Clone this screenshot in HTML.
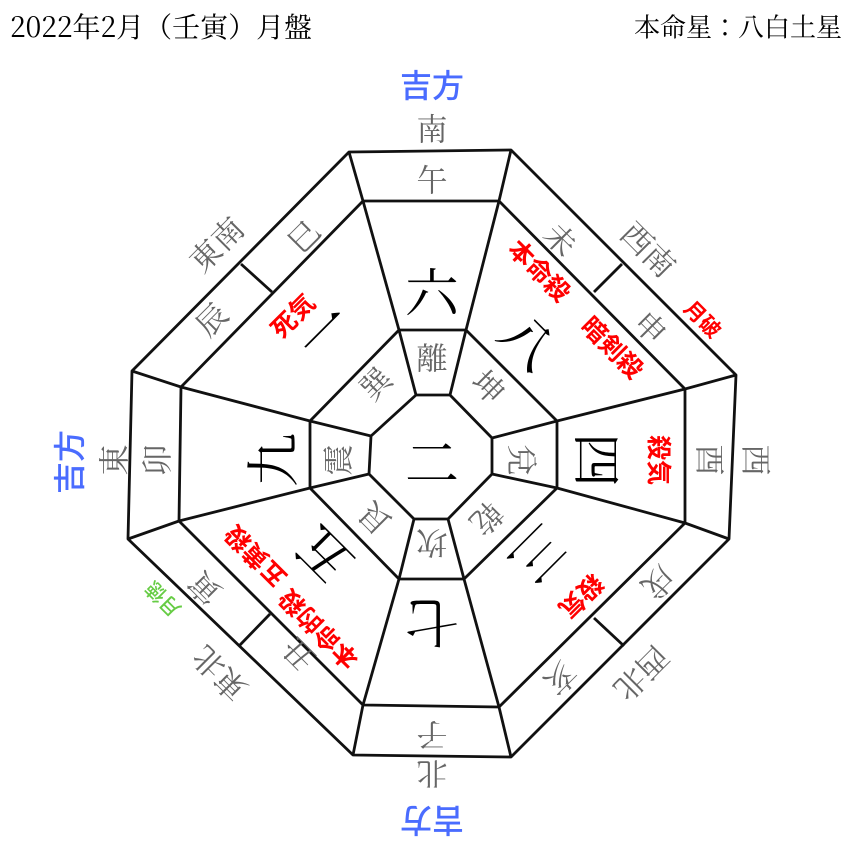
<!DOCTYPE html>
<html><head><meta charset="utf-8"><style>
html,body{margin:0;padding:0;background:#fff;width:860px;height:860px;overflow:hidden}
svg{display:block}
.g{fill:#666;font-family:"Noto Serif CJK JP","Noto Serif CJK SC",serif;font-size:31px}
.k{fill:#000;font-family:"Noto Serif CJK JP","Noto Serif CJK SC",serif;font-size:54px}
.r{fill:#f00;font-family:"Noto Sans CJK JP",sans-serif;font-size:25px;font-weight:bold}
.b{fill:#4a6cff;font-family:"Noto Sans CJK JP",sans-serif;font-size:32px;font-weight:500}
text{text-anchor:middle;dominant-baseline:central}
</style></head><body>
<svg width="860" height="860" viewBox="0 0 860 860">
<g fill="none" stroke="#111" stroke-width="2.8" stroke-linejoin="round">
<polygon points="349,152 511,150 736,375 729,539 511,757 353,755 128,539 132,371"/>
<polygon points="363,201 499,201 685,389 685,523 499,707 363,705 179,521 181,387"/>
<polygon points="399,330 466,330 557,421 557,488 464,579 399,579 310,488 310,421"/>
<polygon points="416,395 450,395 492,438 492,474 448,519 414,519 369,474 371,436"/>
<polyline points="349,152 363,201 399,330 416,395"/>
<polyline points="511,150 499,201 466,330 450,395"/>
<polyline points="736,375 685,389 557,421 492,438"/>
<polyline points="729,539 685,523 557,488 492,474"/>
<polyline points="511,757 499,707 464,579 448,519"/>
<polyline points="353,755 363,705 399,579 414,519"/>
<polyline points="128,539 179,521 310,488 369,474"/>
<polyline points="132,371 181,387 310,421 371,436"/>
<line x1="594" y1="292" x2="622" y2="264"/>
<line x1="594" y1="618" x2="624" y2="646"/>
<line x1="239" y1="646" x2="270" y2="614"/>
<line x1="241" y1="264" x2="272" y2="292"/>
</g>
<text x="10" y="26" style="font-family:'Noto Serif CJK JP',serif;font-size:28px;text-anchor:start">2022年2月（壬寅）月盤</text>
<text x="842" y="26" style="font-family:'Noto Serif CJK JP',serif;font-size:26px;text-anchor:end">本命星：八白土星</text>
<text class="b" x="432" y="84">吉方</text>
<text class="b" transform="translate(68,462) rotate(-90)">吉方</text>
<text class="b" transform="translate(432,822) rotate(180)">吉方</text>
<text class="g" x="432" y="127">南</text>
<text class="g" transform="translate(112,460) rotate(-90)">東</text>
<text class="g" transform="translate(432,776) rotate(180)">北</text>
<text class="g" transform="translate(758,460) rotate(90)">西</text>
<text class="g" transform="translate(215,243) rotate(-45)">東南</text>
<text class="g" transform="translate(650,248) rotate(45)">西南</text>
<text class="g" transform="translate(643,675) rotate(135)">西北</text>
<text class="g" transform="translate(218,675) rotate(-135)">東北</text>
<text class="g" x="432" y="178">午</text>
<text class="g" transform="translate(302,235) rotate(-45)">巳</text>
<text class="g" transform="translate(210,318) rotate(-45)">辰</text>
<text class="g" transform="translate(562,238) rotate(45)">未</text>
<text class="g" transform="translate(652,326) rotate(45)">申</text>
<text class="g" transform="translate(712,460) rotate(90)">酉</text>
<text class="g" transform="translate(660,584) rotate(135)">戌</text>
<text class="g" transform="translate(562,680) rotate(135)">亥</text>
<text class="g" transform="translate(432,737) rotate(180)">子</text>
<text class="g" transform="translate(297,656) rotate(-135)">丑</text>
<text class="g" transform="translate(203,590) rotate(-135)">寅</text>
<text class="g" transform="translate(155,460) rotate(-90)">卯</text>
<text class="g" x="432" y="356">離</text>
<text class="g" transform="translate(490,385) rotate(45)">坤</text>
<text class="g" transform="translate(524,460) rotate(90)">兌</text>
<text class="g" transform="translate(488,520) rotate(135)">乾</text>
<text class="g" transform="translate(432,545) rotate(180)">坎</text>
<text class="g" transform="translate(373,520) rotate(-135)">艮</text>
<text class="g" transform="translate(336,460) rotate(-90)">震</text>
<text class="g" transform="translate(374,382) rotate(-45)">巽</text>
<text class="k" x="432" y="460">二</text>
<text class="k" x="432" y="290">六</text>
<text class="k" transform="translate(530,340) rotate(45)">八</text>
<text class="k" transform="translate(600,460) rotate(90)">四</text>
<text class="k" transform="translate(540,556) rotate(135)">三</text>
<text class="k" transform="translate(432,625) rotate(180)">七</text>
<text class="k" transform="translate(322,557) rotate(-135)">五</text>
<text class="k" transform="translate(270,460) rotate(-90)">九</text>
<text class="k" transform="translate(322,330) rotate(-45)">一</text>
<text class="r" transform="translate(540,270) rotate(45)">本命殺</text>
<text class="r" transform="translate(613,347) rotate(45)">暗剣殺</text>
<text class="r" style="font-size:21px" transform="translate(703,319) rotate(45)">月破</text>
<text class="r" transform="translate(660,460) rotate(90)">殺気</text>
<text class="r" transform="translate(582,597) rotate(135)">殺気</text>
<text class="r" transform="translate(292,315) rotate(-45)">死気</text>
<text class="r" transform="translate(255,557) rotate(-135)">五黄殺</text>
<text class="r" transform="translate(318,630) rotate(-135)">本命的殺</text>
<text class="r" style="fill:#66cc44;font-size:20px;font-weight:500" transform="translate(162,600) rotate(-135)">月徳</text>
</svg>
</body></html>
